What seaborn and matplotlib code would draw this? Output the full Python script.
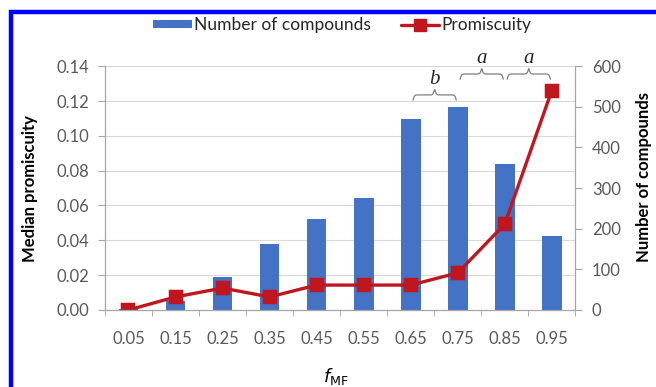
import numpy as np
import matplotlib
matplotlib.use("Agg")
import matplotlib.pyplot as plt
import seaborn as sns
from matplotlib.patches import Rectangle, Patch
from matplotlib.lines import Line2D

# values
f_mf = ["0.05", "0.15", "0.25", "0.35", "0.45", "0.55", "0.65", "0.75", "0.85", "0.95"]
n_compounds = [2, 22, 81, 162, 224, 275, 469, 500, 359, 183]
promiscuity = [0.0, 0.0075, 0.0126, 0.0075, 0.0143, 0.0143, 0.0143, 0.0213, 0.0493, 0.126]
left_ticks = [0.00, 0.02, 0.04, 0.06, 0.08, 0.10, 0.12, 0.14]
right_ticks = [0, 100, 200, 300, 400, 500, 600]
# significance braces: (first category, last category, letter)
braces = [("0.65", "0.75", "b"), ("0.75", "0.85", "a"), ("0.85", "0.95", "a")]

sns.set_style("white")
plt.rcParams["font.family"] = ["Lato", "DejaVu Sans"]

blue = "#4472C4"
red = "#C0161E"
grey = "#595959"
axis_grey = "#A6A6A6"

fig = plt.figure(figsize=(6.56, 3.87), dpi=100)
ax = fig.add_axes([0.160, 0.199, 0.717, 0.630])
ax2 = ax.twinx()

# bars on the right axis, drawn beneath the line (Excel gap width 150%)
sns.barplot(x=f_mf, y=n_compounds, ax=ax2, color=blue, width=0.42,
            saturation=1, edgecolor="none")
for t in left_ticks[1:]:
    ax2.axhline(t / 0.14 * 600, color="#D9D9D9", lw=0.8, zorder=0)
ax2.set_ylim(0, 600)
ax2.set_yticks(right_ticks)

sns.pointplot(x=f_mf, y=promiscuity, ax=ax, color=red, markers="s",
              linestyles="-", markersize=9, linewidth=2.4)
ax.set_ylim(0, 0.14)
ax.set_yticks(left_ticks)
ax.set_yticklabels([f"{t:.2f}" for t in left_ticks])

ax.set_zorder(ax2.get_zorder() + 1)
ax.patch.set_visible(False)
ax.set_xlim(-0.5, len(f_mf) - 0.5)

for a in (ax, ax2):
    for s in a.spines.values():
        s.set_visible(False)
ax.spines["left"].set_visible(True)
ax.spines["bottom"].set_visible(True)
ax2.spines["right"].set_visible(True)
for s in (ax.spines["left"], ax.spines["bottom"], ax2.spines["right"]):
    s.set_color(axis_grey)
    s.set_linewidth(0.9)

ax.tick_params(axis="y", direction="out", length=5, color=axis_grey,
               labelcolor=grey, labelsize=12, left=True, pad=6)
ax2.tick_params(axis="y", direction="out", length=5, color=axis_grey,
                labelcolor=grey, labelsize=12, right=True, pad=7)
ax.set_xticks(range(len(f_mf)))
ax.set_xticklabels(f_mf)
ax.tick_params(axis="x", length=0, labelcolor=grey, labelsize=12, pad=15)
ax.set_xticks(np.arange(-0.5, len(f_mf)), minor=True)
ax.tick_params(axis="x", which="minor", direction="out", length=4,
               color=axis_grey, bottom=True)
ax2.tick_params(axis="x", length=0)

ax.set_ylabel("Median promiscuity", fontsize=12, fontweight="bold", color="black")
ax.yaxis.set_label_coords(-0.143, 0.50)
ax2.set_ylabel("Number of compounds", fontsize=12, fontweight="bold",
               color="black", rotation=90)
ax2.yaxis.set_label_coords(1.128, 0.545)
ax.set_xlabel(r"$\mathit{f}_{\mathrm{MF}}$", fontsize=13, color="black")
ax.xaxis.set_label_coords(0.49, -0.228)
ax2.set_xlabel("")


def curly(a, x0, x1, y, h):
    t = np.linspace(0, 0.5, 60)
    b = 60.0
    half = 1 / (1 + np.exp(-b * (t - 0.0))) + 1 / (1 + np.exp(-b * (t - 0.5)))
    half = half - half[0]
    half = half / half[-1]
    yy = np.concatenate([half, half[::-1]])
    xx = np.linspace(x0, x1, len(yy))
    a.plot(xx, y + h * yy, color="#7F7F7F", lw=0.9, clip_on=False, zorder=5)


for lo, hi, letter in braces:
    i0 = f_mf.index(lo)
    i1 = f_mf.index(hi)
    base = 0.1205 if letter == "b" else 0.1325
    curly(ax, i0 + 0.05, i1 - 0.03, base, 0.006)
    ax.text((i0 + i1) / 2, base + 0.0095, letter, ha="center", va="baseline",
            fontsize=15, style="italic", family="Liberation Serif",
            clip_on=False, zorder=5)

handles = [Patch(facecolor=blue, edgecolor="none"),
           Line2D([], [], color=red, lw=2.4, marker="s", markersize=9)]
fig.legend(handles, ["Number of compounds", "Promiscuity"], ncol=2,
           loc="center", bbox_to_anchor=(0.522, 0.935), frameon=False,
           fontsize=12.5, handlelength=2.2, handleheight=0.4, columnspacing=1.7,
           handletextpad=0.15)

fig.patches.append(Rectangle((0.0168, -0.2), 1.3, 0.969 + 0.2, fill=False,
                             edgecolor="#0000FF", lw=3.2,
                             transform=fig.transFigure, clip_on=False))

fig.savefig("out.png", dpi=100)
